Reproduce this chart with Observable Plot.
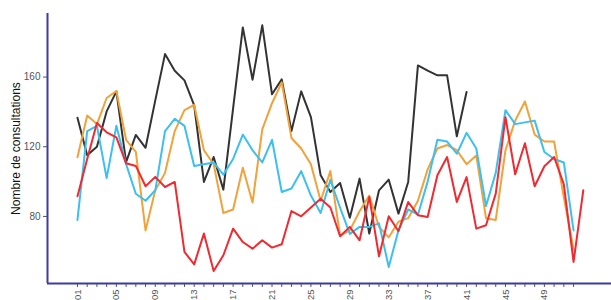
<!DOCTYPE html>
<html><head><meta charset="utf-8">
<script src="https://cdn.jsdelivr.net/npm/d3@7"></script>
<script src="https://cdn.jsdelivr.net/npm/@observablehq/plot@0.6"></script>
<style>body{margin:0;background:#fff}#chart svg{display:block}</style>
</head><body><div id="chart"></div>
<script>
// Series (drawing order: first is at the back)
const seriesNames = ["série 1", "série 2", "série 3", "série 4"];
const seriesColors = ["#333333", "#f2a23a", "#3dbff0", "#f02a30"];

const serie1 = [136.7,115.1,120,140.3,151.8,111.2,126.8,119.4,146.6,173.2,163.6,158.1,143.8,99.8,114.1,95.4,142,188.5,158.5,189.7,150.1,158.7,129,151.8,137,103.6,94,99.2,79.3,101.7,70.2,95,101.1,81.6,99.8,166.7,163.7,161,161,126,151.4];
const serie2 = [114,138,133,148,152,124,117,72,95,105,129,141,144,118,110,82,84,108,88,130,145,157,125,119,110,89,106,69,72,83,92,74,68,77,79,89,107,119,121,118,110,115,79,78,118,135,146,127,123,123,91,61];
const serie3 = [78,129,132,102,132,110,93,89,95,129,136,132,109,110,111,104,113,127,118,111,124,94,96,106,92,82,101,85,70,74,74,76,51,72,84,81,100,124,123,116,128,119,86,105,141,133,134,135,117,113,111,72];
const serie4 = [91.6,113,133.6,128.3,125.4,110.5,109,97.3,102.7,96.9,99.8,59.6,52.5,70.2,48.7,57.7,73,65.3,61.5,66.3,62.1,64,83.1,80.1,85.1,90.2,85.1,68.6,74,66.3,91.2,57.1,80.1,71.5,88.3,80.7,79.7,103.6,114.1,88.3,102.6,73,74.9,93.1,137,104.2,122,97.3,108.8,114.1,98.4,53.9,95];

const yTicks = [80, 120, 160];
const xTickWeeks = d3.range(1, 53);
const xDomain = [-2.08, 55.9];
const yDomain = [41.5, 196.5];
const yLabel = "Nombre de consultations";

const table = [];
[serie1, serie2, serie3, serie4].forEach((vals, i) => {
  vals.forEach((v, j) => table.push({serie: seriesNames[i], week: j + 1, value: v}));
});

const axisColor = "#3a3aa8";
const plot = Plot.plot({
  width: 611, height: 300,
  marginLeft: 47, marginRight: 0, marginTop: 13, marginBottom: 17,
  style: {fontFamily: "'Liberation Sans', Arial, sans-serif", background: "#fff"},
  x: {domain: xDomain},
  y: {domain: yDomain},
  color: {domain: seriesNames, range: seriesColors},
  marks: [
    Plot.axisX({ticks: xTickWeeks, tickSize: 4, tickPadding: 2, tickRotate: -90,
      tickFormat: w => (w - 1) % 4 === 0 ? String(w).padStart(2, "0") : "",
      color: "#555", fontSize: 9.5, label: null}),
    Plot.axisY({ticks: yTicks, tickSize: 4, tickPadding: 3, color: "#555", fontSize: 10, label: null}),
    Plot.text([yLabel], {frameAnchor: "left", textAnchor: "middle", dx: -31, rotate: -90, fontSize: 12, fill: "#111"}),
    Plot.line(table, {x: "week", y: "value", z: "serie", stroke: "serie", strokeWidth: 2}),
    Plot.ruleX([xDomain[0]], {stroke: axisColor, strokeWidth: 2}),
    Plot.ruleY([yDomain[0]], {stroke: axisColor, strokeWidth: 2})
  ]
});
document.getElementById("chart").appendChild(plot);
</script>
</body></html>
